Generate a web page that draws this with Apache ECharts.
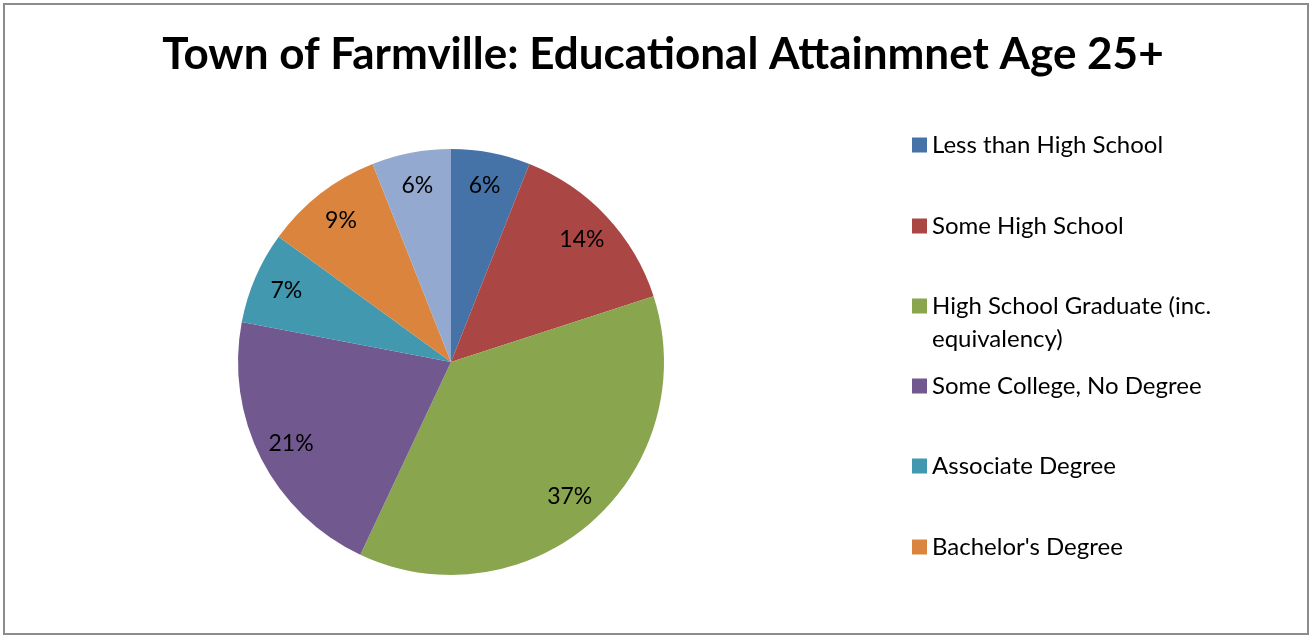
<!DOCTYPE html>
<html>
<head>
<meta charset="utf-8">
<title>Town of Farmville: Educational Attainment</title>
<script src="https://cdn.jsdelivr.net/npm/echarts@6/dist/echarts.min.js"></script>
<style>
  html, body { margin: 0; padding: 0; background: #fff; }
  #frame {
    position: absolute; left: 3px; top: 3px;
    width: 1306px; height: 632px;
    border: 2px solid #8c8c8c; box-sizing: border-box;
  }
  #chart { position: absolute; left: 0; top: 0; width: 1313px; height: 639px; }
</style>
</head>
<body>
<div id="frame"></div>
<div id="chart"></div>
<script>
// Educational attainment, population age 25+, share of total (%)
const categories = [
  'Less than High School',
  'Some High School',
  'High School Graduate (inc. equivalency)',
  'Some College, No Degree',
  'Associate Degree',
  "Bachelor's Degree",
  'Graduate or Professional Degree'
];
const shares = [6, 14, 37, 21, 7, 9, 6];
const sliceColors = ['#4572A7', '#AA4643', '#89A54E', '#71588F', '#4198AF', '#DB843D', '#93A9CF'];

// Legend rows shown on the right (the last category has no visible row)
const legendRows = [
  { name: categories[0], lines: ['Less than High School'] },
  { name: categories[1], lines: ['Some High School'] },
  { name: categories[2], lines: ['High School Graduate (inc.', 'equivalency)'] },
  { name: categories[3], lines: ['Some College, No Degree'] },
  { name: categories[4], lines: ['Associate Degree'] },
  { name: categories[5], lines: ["Bachelor's Degree"] }
];
const legendIconCenters = [145, 226, 306, 386, 466, 547];

const FONT = 'Lato, "Liberation Sans", sans-serif';
const LINE_H = 33;

const pieData = categories.map((c, i) => ({
  name: c, value: shares[i], itemStyle: { color: sliceColors[i] }
}));

// One legend block per row so each icon sits on its own row position.
// A wrapped row gets a leading blank line so its first line stays level with the icon.
const legends = legendRows.map((row, i) => {
  const wrapped = row.lines.length > 1;
  const text = wrapped ? ' \n' + row.lines.join('\n') : row.lines[0];
  const boxH = wrapped ? LINE_H * 3 : LINE_H;
  return {
    orient: 'vertical',
    left: 912,
    top: legendIconCenters[i] - boxH / 2,
    padding: 0,
    itemGap: 0,
    itemWidth: 15,
    itemHeight: 15,
    icon: 'rect',
    selectedMode: false,
    data: [row.name],
    formatter: () => text,
    textStyle: {
      fontFamily: FONT, fontSize: 24, color: '#000',
      lineHeight: LINE_H
    }
  };
});

const chart = echarts.init(document.getElementById('chart'), null, { renderer: 'canvas' });
chart.setOption({
  backgroundColor: 'transparent',
  animation: false,
  title: {
    text: 'Town of Farmville: Educational Attainmnet Age 25+',
    left: 658, top: 28, textAlign: 'center',
    textStyle: { fontFamily: FONT, fontWeight: 'bold', fontSize: 44, color: '#000' }
  },
  legend: legends,
  series: [
    {
      type: 'pie',
      center: [451, 362],
      radius: [0, 213],
      startAngle: 90,
      clockwise: true,
      data: pieData,
      label: { show: false },
      labelLine: { show: false },
      itemStyle: { borderWidth: 0 },
      emphasis: { disabled: true }
    },
    {
      // transparent ring that carries the percentage labels
      type: 'pie',
      center: [451, 362],
      radius: [140, 213],
      startAngle: 90,
      clockwise: true,
      silent: true,
      data: categories.map((c, i) => ({ name: c, value: shares[i] })),
      itemStyle: { color: 'rgba(0,0,0,0)' },
      label: {
        show: true, position: 'inside',
        formatter: p => p.value + '%',
        fontFamily: FONT, fontSize: 23, color: '#000'
      },
      labelLine: { show: false },
      emphasis: { disabled: true }
    }
  ]
});
</script>
</body>
</html>
